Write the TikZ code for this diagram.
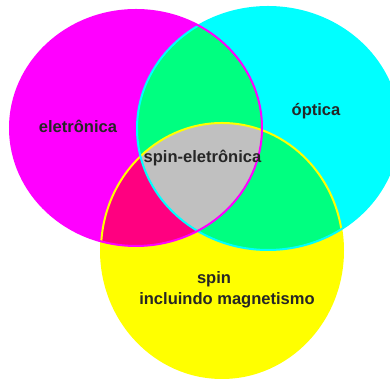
\documentclass[tikz,border=0pt]{standalone}
\usepackage{fontspec}
\setmainfont{Liberation Sans}
\definecolor{magC}{RGB}{255,0,255}
\definecolor{cyaC}{RGB}{0,255,255}
\definecolor{yelC}{RGB}{255,255,0}
\definecolor{grnC}{RGB}{0,255,128}
\definecolor{pnkC}{RGB}{255,0,128}
\definecolor{gryC}{RGB}{192,192,192}
\newcommand\magset{(136,253) ellipse [x radius=126, y radius=118]}
\newcommand\cyaset{(268,252.5) ellipse [x radius=131, y radius=121.5]}
\newcommand\yelset{(222,130.5) ellipse [x radius=121, y radius=127.5]}
\begin{document}
\begin{tikzpicture}[x=0.75pt, y=0.75pt, every node/.style={font=\fontsize{12.4}{15}\selectfont\bfseries, text=black!85, inner sep=0pt}]
\useasboundingbox (0,0) rectangle (390,381);
\clip (0,0) rectangle (390,381);
\fill[white] (0,0) rectangle (390,381);
% the three sets
\fill[magC] \magset;
\fill[cyaC] \cyaset;
\fill[yelC] \yelset;
% pairwise overlaps
\begin{scope}
  \clip \magset;
  \fill[grnC] \cyaset;
  \fill[pnkC] \yelset;
\end{scope}
\begin{scope}
  \clip \cyaset;
  \fill[grnC] \yelset;
\end{scope}
% all three
\begin{scope}
  \clip \magset;
  \clip \cyaset;
  \fill[gryC] \yelset;
\end{scope}
% outlines
\draw[yelC, line width=1.5pt] \yelset;
\draw[cyaC, line width=1.5pt] \cyaset;
\draw[magC, line width=1.5pt] \magset;
% labels
\node (eletr) at (78,255) {eletrônica};
\node (optic) at (316,270) {óptica};
\node (spinel) at (202.5,223) {spin-eletrônica};
\node (spin) at (214,102) {spin};
\node (magnet) at (227,81) {incluindo magnetismo};
\end{tikzpicture}
\end{document}
